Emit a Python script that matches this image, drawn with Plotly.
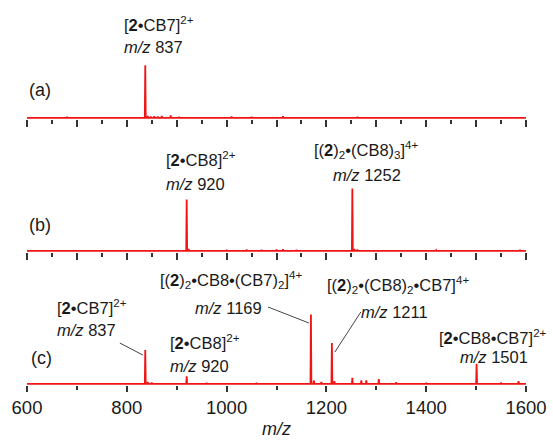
import plotly.graph_objects as go

# ---------------- data (relative intensity, tallest peak = 100) ----------------
mz_a = [680, 837, 842, 848, 855, 862, 870, 888, 905, 1010, 1050, 1113, 1262]
int_a = [1.5, 76, 3, 2, 2.5, 2, 3, 3.5, 1.5, 2, 1.5, 2.5, 1.5]

mz_b = [760, 920, 924, 1000, 1040, 1070, 1100, 1113, 1140, 1252, 1256, 1262, 1420, 1588]
int_b = [1, 74, 3, 1.5, 2, 1.5, 2, 2.5, 1.5, 90, 3, 2, 1, 1.5]

mz_c = [700, 837, 842, 850, 920, 960, 1060, 1169, 1175, 1190, 1211, 1216, 1252, 1270, 1280, 1305, 1340, 1400, 1501, 1550, 1585]
int_c = [1, 49, 3, 2, 11, 1.5, 1.5, 100, 5, 3, 59, 4, 9, 5, 5, 7, 2.5, 1.5, 29, 2, 4]

x_range = [600, 1600]

RED = "#f01414"
FONT = "Liberation Sans, Arial, sans-serif"
TXT = "#1a1a1a"


def stick_spectrum(mz, inten, lo, hi, w=0.9):
    xs, ys = [lo], [0]
    for m, h in sorted(zip(mz, inten)):
        xs += [m - w, m, m + w]
        ys += [0, h, 0]
    xs.append(hi)
    ys.append(0)
    return xs, ys


fig = go.Figure()
for i, (mz, it) in enumerate([(mz_a, int_a), (mz_b, int_b), (mz_c, int_c)]):
    xs, ys = stick_spectrum(mz, it, *x_range)
    suffix = "" if i == 0 else str(i + 1)
    fig.add_trace(go.Scatter(x=xs, y=ys, mode="lines",
                             line=dict(color=RED, width=1.8),
                             xaxis="x" + suffix, yaxis="y" + suffix,
                             hoverinfo="skip", showlegend=False))

PLOT_H = 385.0


def py(p):
    return (PLOT_H - p) / PLOT_H


top_tick = dict(range=x_range, showline=False, ticks="outside", tickmode="linear",
                tick0=600, dtick=100, ticklen=7, tickwidth=1.5, tickcolor="#333",
                showticklabels=False, showgrid=False, zeroline=False,
                minor=dict(ticks="outside", dtick=50, ticklen=4, tickwidth=1.5,
                           tickcolor="#333", showgrid=False))

fig.update_layout(
    width=553, height=441,
    margin=dict(l=27, r=27, t=0, b=56),
    paper_bgcolor="white", plot_bgcolor="white",
    font=dict(family=FONT, color=TXT),
    xaxis=dict(**top_tick, anchor="y"),
    xaxis2=dict(**top_tick, anchor="y2"),
    xaxis3=dict(range=x_range, showline=False, ticks="outside", tickmode="linear",
                tick0=600, dtick=200, ticklen=6, tickwidth=1.5, tickcolor="#333",
                showticklabels=True, tickfont=dict(size=18.5, family=FONT, color=TXT),
                showgrid=False, zeroline=False, anchor="y3",
                minor=dict(ticks="outside", dtick=100, ticklen=4, tickwidth=1.5,
                           tickcolor="#333", showgrid=False)),
    yaxis=dict(domain=[py(119), 1], range=[-1.5, 170], visible=False),
    yaxis2=dict(domain=[py(252), py(119)], range=[-1.5, 190], visible=False),
    yaxis3=dict(domain=[0, py(252)], range=[-1.5, 190], visible=False),
)

FS = 16.5
B = "\u2022"
anns = [
    # (text, x m/z, y px, xanchor, xref, size)
    (f"[<b>2</b>{B}CB7]<sup>2+</sup>", 790, 24, "left", "x", FS),
    ("<i>m/z</i> 837", 790, 47, "left", "x", FS),
    ("(a)", 626, 90, "center", "x", 18),
    (f"[<b>2</b>{B}CB8]<sup>2+</sup>", 875, 159, "left", "x2", FS),
    ("<i>m/z</i> 920", 875, 184, "left", "x2", FS),
    (f"[(<b>2</b>)<sub>2</sub>{B}(CB8)<sub>3</sub>]<sup>4+</sup>", 1281, 150, "center", "x2", FS),
    ("<i>m/z</i> 1252", 1281, 175, "center", "x2", FS),
    ("(b)", 626, 225, "center", "x2", 18),
    (f"[<b>2</b>{B}CB7]<sup>2+</sup>", 656, 307, "left", "x3", FS),
    ("<i>m/z</i> 837", 656, 330, "left", "x3", FS),
    ("(c)", 630, 358, "center", "x3", 18),
    (f"[<b>2</b>{B}CB8]<sup>2+</sup>", 883, 342, "left", "x3", FS),
    ("<i>m/z</i> 920", 883, 366, "left", "x3", FS),
    (f"[(<b>2</b>)<sub>2</sub>{B}CB8{B}(CB7)<sub>2</sub>]<sup>4+</sup>", 1009, 280, "center", "x3", FS),
    ("<i>m/z</i> 1169", 1003, 308, "center", "x3", FS),
    (f"[(<b>2</b>)<sub>2</sub>{B}(CB8)<sub>2</sub>{B}CB7]<sup>4+</sup>", 1343, 285, "center", "x3", FS),
    ("<i>m/z</i> 1211", 1337, 312, "center", "x3", FS),
    (f"[<b>2</b>{B}CB8{B}CB7]<sup>2+</sup>", 1534, 337, "center", "x3", FS),
    ("<i>m/z</i> 1501", 1536, 357, "center", "x3", FS),
]
for text, x, ypx, xa, xr, fs in anns:
    fig.add_annotation(text=text, x=x, xref=xr, y=py(ypx), yref="paper",
                       xanchor=xa, yanchor="middle", showarrow=False,
                       font=dict(size=fs, family=FONT, color=TXT))

fig.add_annotation(text="<i>m/z</i>", x=0.5, xref="paper", y=py(429), yref="paper",
                   xanchor="center", yanchor="middle", showarrow=False,
                   font=dict(size=18, family=FONT, color=TXT))

# leader lines
leaders = [((786, 343), (832, 355)), ((1083, 307), (1165, 323)), ((1217, 352), (1269, 312))]
for (x0, y0), (x1, y1) in leaders:
    fig.add_shape(type="line", xref="x3", yref="paper", x0=x0, y0=py(y0), x1=x1, y1=py(y1),
                  line=dict(color="#444", width=1))

fig.write_html("out.html")
